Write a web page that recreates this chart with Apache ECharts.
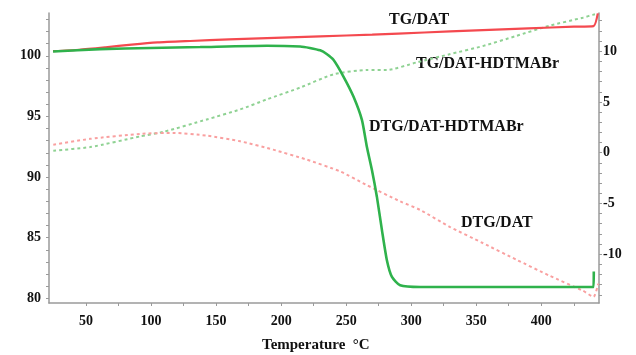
<!DOCTYPE html>
<html>
<head>
<meta charset="utf-8">
<script src="https://cdn.jsdelivr.net/npm/echarts@6/dist/echarts.min.js"></script>
<style>
html,body{margin:0;padding:0;background:#fff;}
#c{width:636px;height:355px;}
</style>
</head>
<body>
<div id="c"></div>
<script>
// ---- data ----
// TG/DAT (red solid, left axis, %)
var tgDatT = [24.6, 45, 65, 85, 105, 130, 160, 195, 230, 270, 310, 350, 390, 425, 440.2, 443.5];
var tgDatV = [100.38, 100.5, 100.7, 100.92, 101.1, 101.22, 101.35, 101.48, 101.6, 101.75, 101.92, 102.1, 102.27, 102.4, 102.45, 103.5];

// green solid curve (left axis, %)
var dtgHdtT = [24.6, 60.8, 99.2, 137.7, 189, 214.6, 222, 230, 235, 240.2, 247.9, 255.6, 262.1, 265.9, 269.8, 273.6, 277.5, 281.3, 285.2, 291.5, 306.9, 350, 400, 440.2, 440.4];
var dtgHdtV = [100.36, 100.55, 100.64, 100.72, 100.83, 100.77, 100.65, 100.45, 100.15, 99.67, 98.29, 96.64, 94.71, 92.5, 90.58, 88.38, 85.62, 83.14, 81.76, 81.07, 80.93, 80.93, 80.93, 80.93, 82.2];

// green dotted curve (right axis)
var tgHdtT = [24.8, 53.1, 91.5, 109.5, 142.8, 168.5, 189, 214.6, 240.2, 265.9, 281.3, 304.4, 329.5, 355, 380.8, 406, 432, 440.2, 443.8];
var tgHdtV = [0.2, 0.55, 1.6, 2.05, 3.27, 4.26, 5.25, 6.41, 7.72, 8.15, 8.15, 8.9, 9.7, 10.5, 11.5, 12.5, 13.3, 13.6, 13.7];

// DTG/DAT (red dotted, right axis)
var dtgDatT = [24.8, 53.1, 91.5, 116.9, 142.8, 168.5, 193.8, 219.8, 245.4, 265.9, 291.5, 306.9, 329.5, 355, 381, 406, 432, 440.2, 443.8];
var dtgDatV = [0.79, 1.36, 1.85, 1.95, 1.68, 1.12, 0.3, -0.69, -1.85, -3.2, -4.8, -5.64, -7.3, -8.9, -10.55, -12.1, -13.6, -14.2, -12.9];

// ticks and labels
var xTicks = [50, 75, 100, 125, 150, 175, 200, 225, 250, 275, 300, 325, 350, 375, 400, 425];
var xLabels = [50, 100, 150, 200, 250, 300, 350, 400];
var yLTicks = [80, 81, 82, 83, 84, 85, 86, 87, 88, 89, 90, 91, 92, 93, 94, 95, 96, 97, 98, 99, 100, 101, 102, 103];
var yLLabels = [80, 85, 90, 95, 100];
var yRTicks = [-14, -13, -12, -11, -10, -9, -8, -7, -6, -5, -4, -3, -2, -1, 0, 1, 2, 3, 4, 5, 6, 7, 8, 9, 10, 11, 12, 13];
var yRLabels = [-10, -5, 0, 5, 10];

var curveNames = ['TG/DAT', 'TG/DAT-HDTMABr', 'DTG/DAT-HDTMABr', 'DTG/DAT'];
var xTitle = 'Temperature  \u00B0C';

function pairs(t, v) { return t.map(function (x, i) { return [x, v[i]]; }); }

var FONT = '"Liberation Serif", "DejaVu Serif", serif';
var axisGray = '#9a9a9a';
var labelStyle = { color: '#111', fontFamily: FONT, fontWeight: 'bold', fontSize: 14 };

var chart = echarts.init(document.getElementById('c'), null, { renderer: 'canvas' });
chart.setOption({
  animation: false,
  backgroundColor: '#fff',
  grid: { left: 49, right: 37, top: 13, bottom: 52, containLabel: false },
  xAxis: {
    type: 'value', min: 21.5, max: 444.4,
    axisLine: { show: true, onZero: false, lineStyle: { color: axisGray, width: 1.5 } },
    axisTick: { show: true, length: 3, customValues: xTicks, lineStyle: { color: axisGray } },
    axisLabel: Object.assign({ customValues: xLabels, margin: 11 }, labelStyle),
    splitLine: { show: false }
  },
  yAxis: [{
    type: 'value', min: 79.61, max: 103.53, position: 'left',
    axisLine: { show: true, onZero: false, lineStyle: { color: axisGray, width: 1.5 } },
    axisTick: { show: true, length: 3, customValues: yLTicks, lineStyle: { color: axisGray } },
    axisLabel: Object.assign({ customValues: yLLabels, margin: 8 }, labelStyle),
    splitLine: { show: false }
  }, {
    type: 'value', min: -14.81, max: 13.76, position: 'right',
    axisLine: { show: true, onZero: false, lineStyle: { color: axisGray, width: 1.5 } },
    axisTick: { show: true, length: 3, customValues: yRTicks, lineStyle: { color: axisGray } },
    axisLabel: Object.assign({ customValues: yRLabels, margin: 4 }, labelStyle),
    splitLine: { show: false }
  }],
  series: [{
    name: curveNames[0], type: 'line', yAxisIndex: 0, showSymbol: false, smooth: 0.2,
    lineStyle: { color: '#f4494f', width: 2.2 }, z: 3,
    data: pairs(tgDatT, tgDatV)
  }, {
    name: curveNames[2], type: 'line', yAxisIndex: 0, showSymbol: false, smooth: 0.2,
    lineStyle: { color: '#2fb24c', width: 2.6 }, z: 4,
    data: pairs(dtgHdtT, dtgHdtV)
  }, {
    name: curveNames[1], type: 'line', yAxisIndex: 1, showSymbol: false, smooth: 0.2,
    lineStyle: { color: '#8fd293', width: 2, type: [3, 3] }, z: 2,
    data: pairs(tgHdtT, tgHdtV)
  }, {
    name: curveNames[3], type: 'line', yAxisIndex: 1, showSymbol: false, smooth: 0.2,
    lineStyle: { color: '#f9a0a0', width: 2, type: [3, 3] }, z: 2,
    data: pairs(dtgDatT, dtgDatV)
  }],
  graphic: [
    { type: 'text', left: 389, top: 12, style: { text: curveNames[0], font: 'bold 16px ' + FONT, fill: '#111' } },
    { type: 'text', left: 416, top: 56, style: { text: curveNames[1], font: 'bold 16px ' + FONT, fill: '#111' } },
    { type: 'text', left: 369, top: 119, style: { text: curveNames[2], font: 'bold 16px ' + FONT, fill: '#111' } },
    { type: 'text', left: 461, top: 215, style: { text: curveNames[3], font: 'bold 16px ' + FONT, fill: '#111' } },
    { type: 'text', left: 262, top: 338, style: { text: xTitle, font: 'bold 15px ' + FONT, fill: '#111' } }
  ]
});
</script>
</body>
</html>
